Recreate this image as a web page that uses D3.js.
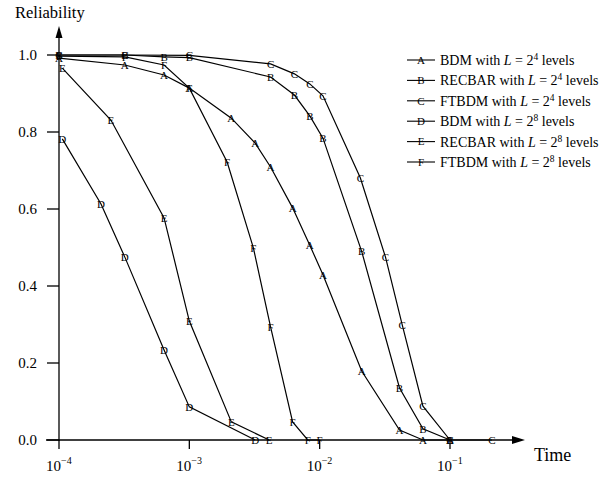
<!DOCTYPE html>
<html>
<head>
<meta charset="utf-8">
<script src="https://cdn.jsdelivr.net/npm/d3@7"></script>
<style>
  body { margin: 0; background: #fff; }
  svg { display: block; font-family: "Liberation Serif", "DejaVu Serif", serif; }
</style>
</head>
<body>
<div id="chart"></div>
<script>
const w = 614;
const h = 479;

// curve letters and legend names
const keys = ["A", "B", "C", "D", "E", "F"];
const names = ["BDM", "RECBAR", "FTBDM", "BDM", "RECBAR", "FTBDM"];
const levels = ["4", "4", "4", "8", "8", "8"];

// time / reliability
const timesA = [1e-4, 3.2e-4, 6.4e-4, 1e-3, 2.1e-3, 3.2e-3, 4.2e-3, 6.2e-3, 8.4e-3, 1.06e-2, 2.1e-2, 4.1e-2, 6.2e-2, 1e-1];
const relA = [0.992, 0.974, 0.948, 0.914, 0.836, 0.771, 0.709, 0.603, 0.506, 0.429, 0.179, 0.026, 0, 0];
const timesB = [1e-4, 3.2e-4, 6.4e-4, 1e-3, 4.2e-3, 6.4e-3, 8.4e-3, 1.06e-2, 2.1e-2, 4.1e-2, 6.2e-2, 1e-1];
const relB = [1.0, 1.0, 0.995, 0.993, 0.943, 0.896, 0.842, 0.784, 0.49, 0.135, 0.029, 0];
const timesC = [1e-4, 3.2e-4, 1e-3, 4.2e-3, 6.4e-3, 8.4e-3, 1.06e-2, 2.05e-2, 3.2e-2, 4.3e-2, 6.2e-2, 1e-1, 2.1e-1];
const relC = [1.0, 1.0, 0.999, 0.977, 0.951, 0.925, 0.894, 0.681, 0.475, 0.299, 0.088, 0, 0];
const timesD = [1.06e-4, 2.1e-4, 3.2e-4, 6.4e-4, 1e-3, 3.2e-3];
const relD = [0.782, 0.613, 0.475, 0.234, 0.086, 0];
const timesE = [1.06e-4, 2.5e-4, 6.4e-4, 1e-3, 2.1e-3, 4.1e-3];
const relE = [0.966, 0.831, 0.577, 0.309, 0.047, 0];
const timesF = [1e-4, 3.2e-4, 6.4e-4, 1e-3, 1.95e-3, 3.1e-3, 4.2e-3, 6.2e-3, 8.1e-3, 1e-2];
const relF = [0.997, 0.995, 0.974, 0.914, 0.722, 0.499, 0.294, 0.047, 0, 0];

const xTicks = [1e-4, 1e-3, 1e-2, 1e-1];
const xTickExp = ["−4", "−3", "−2", "−1"];
const yTicks = [0, 0.2, 0.4, 0.6, 0.8, 1.0];

const allTimes = [timesA, timesB, timesC, timesD, timesE, timesF];
const allRel = [relA, relB, relC, relD, relE, relF];

const series = keys.map((k, i) => ({
  key: k,
  points: allTimes[i].map((t, j) => ({ t, r: allRel[i][j] }))
}));

const svg = d3.select("#chart").append("svg")
  .attr("width", w)
  .attr("height", h);

const x = d3.scaleLog().domain([1e-4, 1e-1]).range([59, 450]);
const y = d3.scaleLinear().domain([0, 1]).range([440, 55]);

// axes drawn by hand to mimic the old figure style
const axes = svg.append("g").attr("stroke", "#000").attr("stroke-width", 1.3);

axes.append("line")
  .attr("x1", 46).attr("x2", 514)
  .attr("y1", y(0)).attr("y2", y(0));
axes.append("line")
  .attr("x1", x(1e-4)).attr("x2", x(1e-4))
  .attr("y1", y(0) + 1).attr("y2", 36);

svg.append("path")
  .attr("d", `M525,${y(0)} L512,${y(0) - 4} L512,${y(0) + 4} Z`)
  .attr("fill", "#000");
svg.append("path")
  .attr("d", `M${x(1e-4)},26 L${x(1e-4) - 3.5},38 L${x(1e-4) + 3.5},38 Z`)
  .attr("fill", "#000");

axes.selectAll(".ytick").data(yTicks).enter().append("line")
  .attr("x1", 47).attr("x2", x(1e-4))
  .attr("y1", (d) => y(d)).attr("y2", (d) => y(d));

axes.selectAll(".xtick").data(xTicks).enter().append("line")
  .attr("x1", (d) => x(d)).attr("x2", (d) => x(d))
  .attr("y1", y(0)).attr("y2", y(0) + 9);

svg.selectAll(".ylab").data(yTicks).enter().append("text")
  .attr("x", 37)
  .attr("y", (d) => y(d) + 5)
  .attr("text-anchor", "end")
  .style("font-size", "15px")
  .text((d) => d.toFixed(1));

const xl = svg.selectAll(".xlab").data(xTicks).enter().append("text")
  .attr("x", (d) => x(d) - 13)
  .attr("y", 471)
  .style("font-size", "15px");
xl.append("tspan").text("10");
xl.append("tspan")
  .attr("dy", -7)
  .style("font-size", "10px")
  .text((d, i) => xTickExp[i]);

svg.append("text")
  .attr("x", 15).attr("y", 18)
  .style("font-size", "16.5px")
  .text("Reliability");

svg.append("text")
  .attr("x", 534).attr("y", 461)
  .style("font-size", "18px")
  .text("Time");

// curves
const line = d3.line().x((d) => x(d.t)).y((d) => y(d.r));

const curves = svg.append("g");
curves.selectAll("path").data(series).enter().append("path")
  .attr("d", (d) => line(d.points))
  .attr("fill", "none")
  .attr("stroke", "#000")
  .attr("stroke-width", 1.2);

const markers = svg.append("g");
series.forEach((s) => {
  markers.selectAll(".m" + s.key).data(s.points).enter().append("text")
    .attr("x", (d) => x(d.t))
    .attr("y", (d) => y(d.r) + 3.8)
    .attr("text-anchor", "middle")
    .style("font-size", "11px")
    .text(s.key);
});

// legend
const legend = svg.append("g");
const rows = legend.selectAll("g").data(keys).enter().append("g")
  .attr("transform", (d, i) => `translate(407, ${60 + i * 20.4})`);

rows.append("line")
  .attr("x1", 0).attr("x2", 28)
  .attr("y1", 0).attr("y2", 0)
  .attr("stroke", "#000")
  .attr("stroke-width", 1.1);
rows.append("text")
  .attr("x", 14).attr("y", 3.8)
  .attr("text-anchor", "middle")
  .style("font-size", "11px")
  .text((d) => d);

const lt = rows.append("text")
  .attr("x", 33).attr("y", 5)
  .style("font-size", "14px");
lt.append("tspan").text((d, i) => names[i] + " with ");
lt.append("tspan").style("font-style", "italic").text("L");
lt.append("tspan").text(" = 2");
lt.append("tspan").attr("dy", -5).style("font-size", "9.5px").text((d, i) => levels[i]);
lt.append("tspan").attr("dy", 5).text(" levels");
</script>
</body>
</html>
